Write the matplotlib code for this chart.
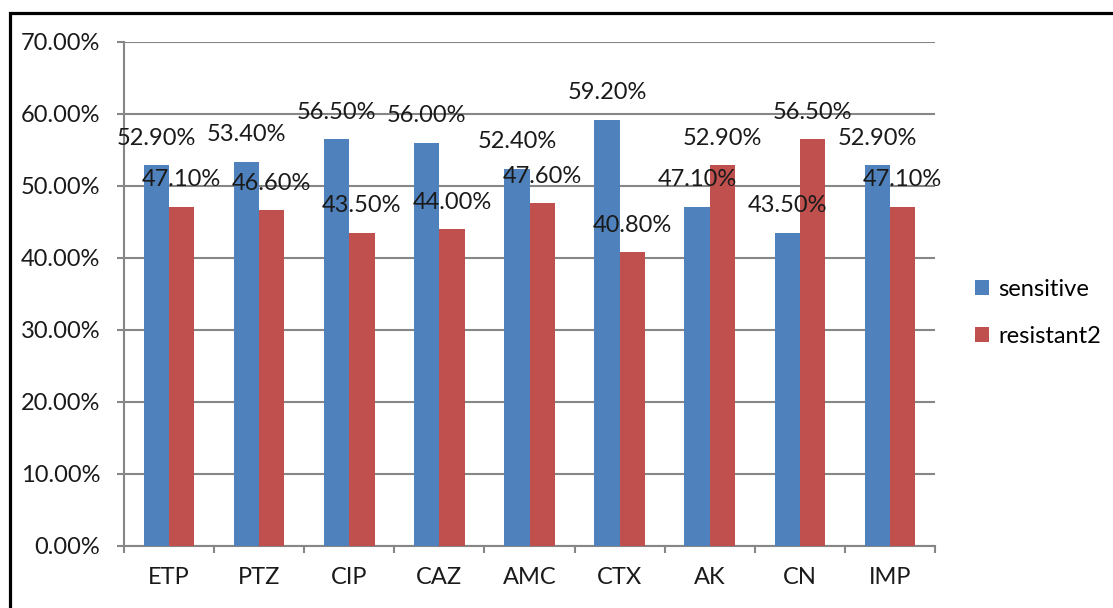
import matplotlib.pyplot as plt
import matplotlib.patches as mpatches
from matplotlib.ticker import FuncFormatter, FixedLocator

# -----------------------------
# DATA
# -----------------------------
drugs = ["ETP", "PTZ", "CIP", "CAZ", "AMC", "CTX", "AK", "CN", "IMP"]
sensitive = [52.9, 53.4, 56.5, 56.0, 52.4, 59.2, 47.1, 43.5, 52.9]
resistant = [47.1, 46.6, 43.5, 44.0, 47.6, 40.8, 52.9, 56.5, 47.1]
series_names = ["sensitive", "resistant2"]

BLUE = "#4F81BD"
RED = "#C0504D"
GRID = "#868686"

plt.rcParams["font.family"] = ["Lato", "DejaVu Sans"]
FS = 17

fig = plt.figure(figsize=(11.13, 6.08), dpi=100)
ax = fig.add_axes([124 / 1113, 1 - 546 / 608, (935 - 124) / 1113, (546 - 42) / 608])

x = list(range(len(drugs)))
w = 0.28
b1 = ax.bar([i - w / 2 for i in x], sensitive, w, color=BLUE, label=series_names[0], zorder=3)
b2 = ax.bar([i + w / 2 for i in x], resistant, w, color=RED, label=series_names[1], zorder=3)

# data labels (Excel-style, above each bar)
for bars, vals in ((b1, sensitive), (b2, resistant)):
    for rect, v in zip(bars, vals):
        ax.annotate(f"{v:.2f}%", (rect.get_x() + rect.get_width() / 2, v),
                    xytext=(0, 19.5), textcoords="offset points",
                    ha="center", va="center", fontsize=FS, color="#1a1a1a", zorder=5)

ax.set_xlim(-0.5, len(drugs) - 0.5)
ax.set_ylim(0, 70)
ax.set_yticks(range(0, 71, 10))
ax.yaxis.set_major_formatter(FuncFormatter(lambda v, p: f"{v:.2f}%"))
ax.yaxis.grid(True, color=GRID, linewidth=1.5, zorder=0)

ax.set_xticks(x)
ax.set_xticklabels(drugs)
ax.xaxis.set_minor_locator(FixedLocator([i - 0.5 for i in range(len(drugs) + 1)]))
ax.tick_params(axis="x", which="major", length=0, pad=15, labelsize=FS, labelcolor="#1a1a1a")
ax.tick_params(axis="x", which="minor", length=5, width=1.5, color=GRID, direction="out")
ax.tick_params(axis="y", length=5, width=1.5, color=GRID, pad=12, labelsize=FS, labelcolor="#1a1a1a")

for s in ("top", "right"):
    ax.spines[s].set_visible(False)
for s in ("left", "bottom"):
    ax.spines[s].set_color(GRID)
    ax.spines[s].set_linewidth(1.5)

fig.legend(handles=[b1, b2], loc="center left", bbox_to_anchor=(975 / 1113, 1 - 313 / 608),
           frameon=False, fontsize=FS, handlelength=0.6, handleheight=0.6,
           handletextpad=0.4, labelspacing=1.1, borderpad=0, borderaxespad=0)

# black frame around the figure (open at right and bottom)
frame = mpatches.Rectangle((9.5 / 1113, -0.1), 1.2, 1 - 13 / 608 + 0.1,
                           transform=fig.transFigure, fill=False,
                           edgecolor="black", linewidth=2.3, clip_on=False)
fig.patches.append(frame)

fig.savefig("out.png", dpi=100)
